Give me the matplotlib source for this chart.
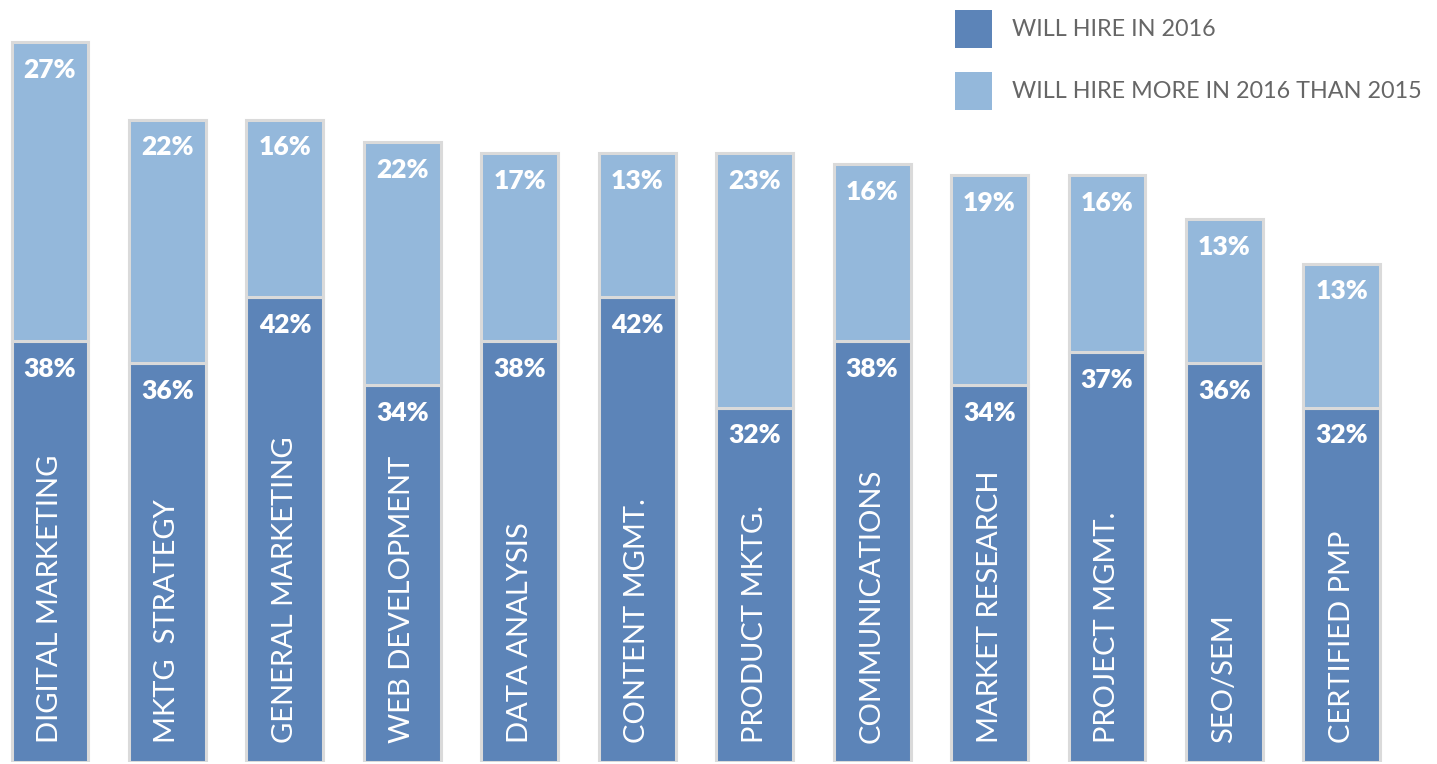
import matplotlib.pyplot as plt
from matplotlib.patches import Patch

categories = ['DIGITAL MARKETING', 'MKTG  STRATEGY', 'GENERAL MARKETING', 'WEB DEVELOPMENT',
              'DATA ANALYSIS', 'CONTENT MGMT.', 'PRODUCT MKTG.', 'COMMUNICATIONS',
              'MARKET RESEARCH', 'PROJECT MGMT.', 'SEO/SEM', 'CERTIFIED PMP']
hire_2016 = [38, 36, 42, 34, 38, 42, 32, 38, 34, 37, 36, 32]
hire_more = [27, 22, 16, 22, 17, 13, 23, 16, 19, 16, 13, 13]

dark = '#5c84b8'
light = '#94b8db'
edge = '#dadada'

fig = plt.figure(figsize=(14.37, 7.64), dpi=100)
ax = fig.add_axes([0, 2 / 764, 1, 762 / 764])

x = list(range(len(categories)))
b1 = ax.bar(x, hire_2016, width=0.655, color=dark, edgecolor=edge, linewidth=2.2)
b2 = ax.bar(x, hire_more, width=0.655, bottom=hire_2016, color=light,
            edgecolor=edge, linewidth=2.2)

ax.set_xlim(-0.4257, 11.81)
ax.set_ylim(0, 68.8)
ax.axis('off')

pct_font = dict(family='Lato', weight='heavy', size=19, color='white',
                ha='center', va='center')
for i, (lo, hi) in enumerate(zip(hire_2016, hire_more)):
    ax.annotate(f'{lo}%', (i, lo), xytext=(0, -20), textcoords='offset points', **pct_font)
    ax.annotate(f'{hi}%', (i, lo + hi), xytext=(0, -20), textcoords='offset points', **pct_font)
    ax.annotate(categories[i], (i, 0), xytext=(0, 14), textcoords='offset points',
                rotation=90, ha='center', va='bottom', color='white',
                family='Lato', size=21)

handles = [Patch(facecolor=dark, edgecolor='none'), Patch(facecolor=light, edgecolor='none')]
fig.legend(handles, ['WILL HIRE IN 2016', 'WILL HIRE MORE IN 2016 THAN 2015'],
           loc='upper left', bbox_to_anchor=(955 / 1437, 1 - 10 / 764),
           frameon=False, borderpad=0, borderaxespad=0,
           handlelength=1.6, handleheight=2.13, handletextpad=0.86,
           labelspacing=1.03, labelcolor='#666666', prop={'family': 'Lato', 'size': 16.8})

fig.savefig('out.png', dpi=100, facecolor='white')
